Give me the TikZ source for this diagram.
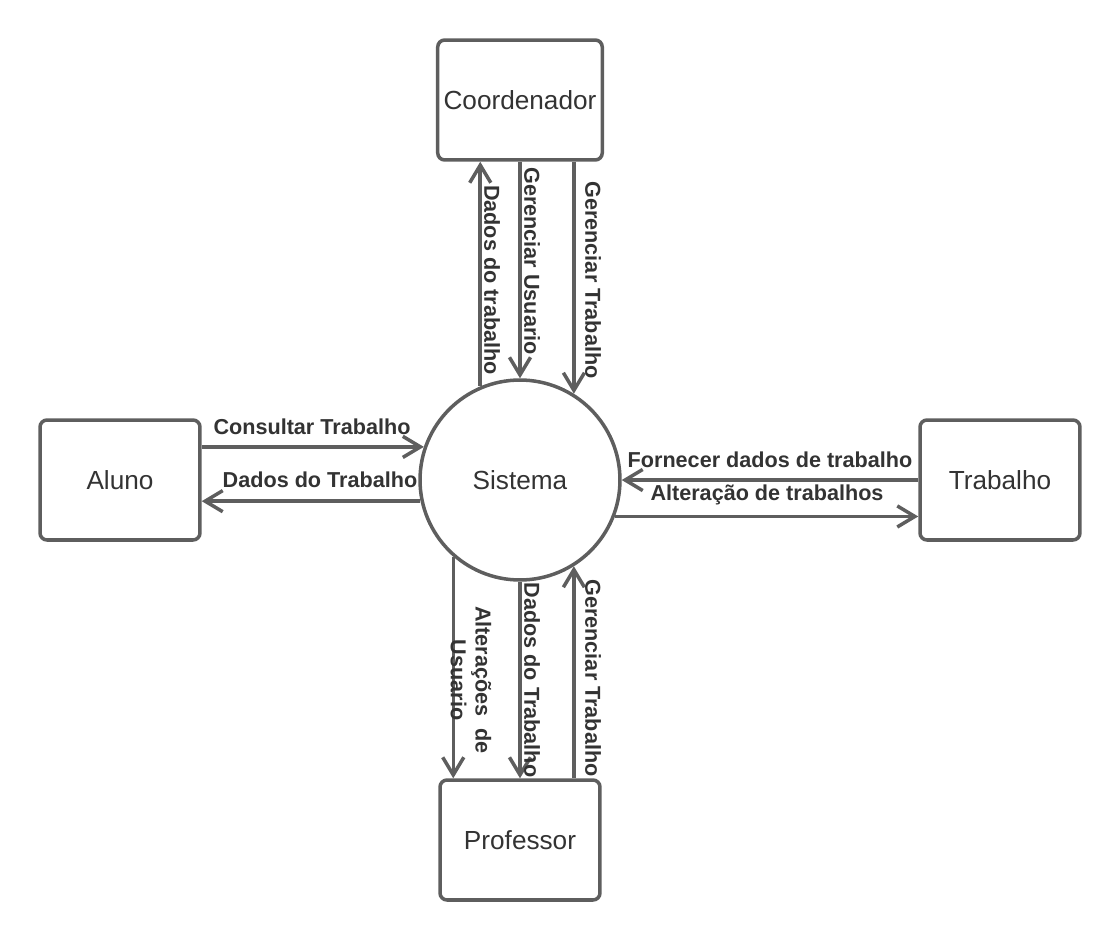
\documentclass[tikz,border=0pt]{standalone}
\usepackage{fontspec}
\setmainfont{Liberation Sans}
\usepackage{tikz}
\usetikzlibrary{arrows.meta,positioning,calc}
\definecolor{linegray}{RGB}{94,94,94}
\definecolor{textgray}{RGB}{51,51,51}

\begin{document}
\begin{tikzpicture}[x=0.02cm,y=-0.02cm,
    box/.style={rectangle,draw=linegray,line width=2pt,rounded corners=4pt,align=center,
        minimum width=3.2cm,minimum height=2.4cm,text=textgray,font=\fontsize{14.9}{17}\selectfont},
    proc/.style={circle,draw=linegray,line width=2pt,minimum size=4cm,inner sep=0pt,
        text=textgray,font=\fontsize{14.9}{17}\selectfont},
    flow/.style={draw=linegray,line width=2pt,-{Straight Barb[length=10pt,width=12pt,line width=2pt]}},
    lbl/.style={text=textgray,font=\bfseries\fontsize{12.3}{14}\selectfont,inner sep=0pt,align=center}]

    \useasboundingbox (0,0) rectangle (1120,940);

    \node[box] (coord) at (520,100) {Coordenador};
    \node[box] (aluno) at (120,480) {Aluno};
    \node[box] (trab) at (1000,480) {Trabalho};
    \node[box] (prof) at (520,840) {Professor};
    \node[proc] (sis) at (520,480) {Sistema};

    % Coordenador
    \draw[flow] (sis.113.6) -- (sis.113.6 |- coord.south);
    \draw[flow] (coord.south) -- (sis.north);
    \draw[flow] (sis.58 |- coord.south) -- (sis.58);

    % Aluno
    \draw[flow] (aluno.east |- sis.161.3) -- (sis.161.3);
    \draw[flow] (sis.192.1) -- (aluno.east |- sis.192.1);

    % Trabalho
    \draw[flow] (trab.west) -- (sis.east);
    \draw[flow] (sis.339.5) -- (trab.west |- sis.339.5);

    % Professor
    \draw[flow] (sis.229.5) -- (sis.229.5 |- prof.north);
    \draw[flow] (sis.south) -- (prof.north);
    \draw[flow] (sis.302.7 |- prof.north) -- (sis.302.7);

    % Labels
    \node[lbl,rotate=-90] (l1) at (492,280) {Dados do trabalho};
    \node[lbl,rotate=-90] (l2) at (532,261) {Gerenciar Usuario};
    \node[lbl,rotate=-90] (l3) at (593,280) {Gerenciar Trabalho};
    \node[lbl] (l4) at (312,427) {Consultar Trabalho};
    \node[lbl] (l5) at (320,480) {Dados do Trabalho};
    \node[lbl] (l6) at (770,460) {Fornecer dados de trabalho};
    \node[lbl] (l7) at (767,495) {Alteração de trabalhos};
    \node[lbl,rotate=-90] (l8) at (471,680) {Alterações\ \ de\\Usuario};
    \node[lbl,rotate=-90] (l9) at (532,680) {Dados do Trabalho};
    \node[lbl,rotate=-90] (l10) at (593,678) {Gerenciar Trabalho};
\end{tikzpicture}
\end{document}
